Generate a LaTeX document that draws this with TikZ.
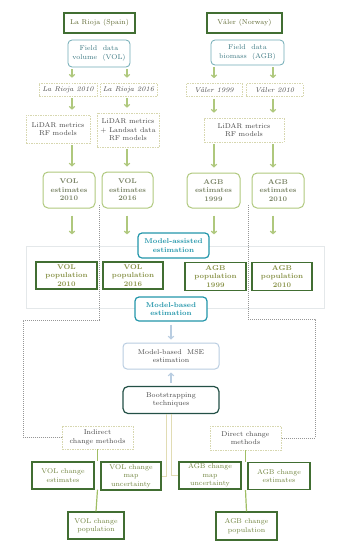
\documentclass[tikz,border=0pt]{standalone}
\usetikzlibrary{arrows.meta}
\definecolor{dkgreen}{RGB}{65,110,50}
\definecolor{headtxt}{RGB}{95,105,50}
\definecolor{tealtxt}{RGB}{60,120,130}
\definecolor{greytxt}{RGB}{70,70,70}
\definecolor{esttxt}{RGB}{120,130,100}
\definecolor{poptxt}{RGB}{135,145,70}
\definecolor{chgtxt}{RGB}{110,130,60}
\definecolor{tealc}{RGB}{35,150,170}
\definecolor{fieldbd}{RGB}{110,170,180}
\definecolor{msebd}{RGB}{185,205,225}
\definecolor{dkteal}{RGB}{35,80,70}
\definecolor{beige}{RGB}{215,215,175}
\definecolor{ltgreen}{RGB}{175,200,125}
\definecolor{glinec}{RGB}{160,190,100}
\definecolor{bootc}{RGB}{225,220,180}
\definecolor{framec}{RGB}{228,232,234}
\definecolor{gdotc}{RGB}{150,150,150}
\begin{document}
\begin{tikzpicture}[x=1pt,y=-1pt,
  every node/.style={font=\fontsize{7}{8.5}\selectfont, align=center, inner sep=0pt},
  wh/.style 2 args={minimum width=#1pt, minimum height=#2pt},
  head/.style={draw=dkgreen, line width=1.2pt, text=headtxt},
  field/.style={draw=fieldbd, line width=0.8pt, rounded corners=4pt, text=tealtxt},
  dbox/.style={draw=beige, line width=0.6pt, dash pattern=on 1.5pt off 1pt, text=greytxt},
  est/.style={draw=ltgreen, line width=1pt, rounded corners=5pt, text=esttxt, font=\fontsize{7}{8.5}\selectfont\bfseries},
  pop/.style={draw=dkgreen, line width=1.2pt, text=poptxt, font=\fontsize{7}{8.5}\selectfont\bfseries},
  meth/.style={draw=tealc, line width=1.2pt, rounded corners=4pt, text=tealc, fill=white, font=\fontsize{7}{8.5}\selectfont\bfseries},
  msebox/.style={draw=msebd, line width=1pt, rounded corners=4pt, text=greytxt},
  bootbox/.style={draw=dkteal, line width=1.2pt, rounded corners=5pt, text=greytxt},
  chg/.style={draw=dkgreen, line width=1.2pt, text=chgtxt},
  arr/.style={draw=ltgreen, line width=1.2pt, -{Straight Barb[length=2.5pt,width=5.5pt]}, shorten <=2pt, shorten >=5pt},
  barr/.style={draw=msebd, line width=1.2pt, -{Straight Barb[length=2.5pt,width=5.5pt]}, shorten <=3pt, shorten >=3pt},
  gline/.style={draw=glinec, line width=1.2pt},
  bootline/.style={draw=bootc, line width=1pt},
  gdot/.style={draw=gdotc, line width=0.6pt, dash pattern=on 1pt off 1pt}
]
\useasboundingbox (0,0) rectangle (348,550);

\coordinate (cA) at (72,0);
\coordinate (cB) at (127,0);
\coordinate (cC) at (214,0);
\coordinate (cD) at (273,0);

\node[head, wh={71}{20}] (rioja) at (99.5,23) {La Rioja (Spain)};
\node[head, wh={75}{20}] (valer) at (244.5,23) {Våler (Norway)};
\node[field, wh={62}{27}] (fdv) at (99,53.5) {Field\ \ data\\volume\ \ (VOL)};
\node[field, wh={73}{25}] (fdb) at (247.5,52.5) {Field\ \ data\\biomass\ \ (AGB)};

\node[dbox, wh={58}{13}] (r10) at (68,89.5) {\itshape La Rioja 2010};
\node[dbox, wh={57}{13}] (r16) at (128.5,89.5) {\itshape La Rioja 2016};
\node[dbox, wh={56}{13}] (v99) at (214,90) {\itshape Våler 1999};
\node[dbox, wh={57}{13}] (v10) at (274.5,90) {\itshape Våler 2010};

\node[dbox, wh={64}{28}] (rf1) at (58,129) {LiDAR metrics\\RF models};
\node[dbox, wh={62}{34}] (rf2) at (128,130) {LiDAR metrics\\+ Landsat data\\RF models};
\node[dbox, wh={80}{24}] (rf3) at (244,130) {LiDAR metrics\\RF models};

\node[est, wh={52}{36}] (ve10) at (69,190) {VOL\\estimates\\2010};
\node[est, wh={51}{36}] (ve16) at (127.5,190) {VOL\\estimates\\2016};
\node[est, wh={53}{35}] (ae99) at (213.5,190.5) {AGB\\estimates\\1999};
\node[est, wh={52}{35}] (ae10) at (278,190.5) {AGB\\estimates\\2010};

% frame of the population row
\draw[framec, line width=0.5pt] (26,246) rectangle (324,308);

% dotted grey connectors
\coordinate (g1) at (99,205);
\coordinate (g2) at (23,320);
\coordinate (g3) at (248,205);
\coordinate (g4) at (315,319);

\node[meth, wh={71}{25}] (ma) at (173.5,245.5) {Model-assisted\\estimation};

\node[pop, wh={61}{27}] (vp10) at (66.5,275.5) {VOL\\population\\2010};
\node[pop, wh={60}{27}] (vp16) at (133,275.5) {VOL\\population\\2016};
\node[pop, wh={61}{28}] (ap99) at (215.5,276.5) {AGB\\population\\1999};
\node[pop, wh={60}{28}] (ap10) at (282,276.5) {AGB\\population\\2010};

\node[meth, wh={72}{24}] (mb) at (171,309) {Model-based\\estimation};
\node[msebox, wh={96}{26}] (mse) at (171,356) {Model-based\ \ MSE\\estimation};
\node[bootbox, wh={96}{27}] (boot) at (171,400) {Bootstrapping\\techniques};

\node[dbox, wh={71}{23}] (ind) at (97.5,437.5) {Indirect\\change methods};
\node[dbox, wh={71}{24}] (dir) at (245.5,438) {Direct change\\methods};

\node[chg, wh={62}{27}] (vce) at (63,475.5) {VOL change\\estimates};
\node[chg, wh={60}{28}] (vcu) at (131,476) {VOL change\\map\\uncertainty};
\node[chg, wh={62}{27}] (acu) at (210,475.5) {AGB change\\map\\uncertainty};
\node[chg, wh={62}{27}] (ace) at (279,476) {AGB change\\estimates};
\node[chg, wh={56}{27}] (vcp) at (96,525.5) {VOL change\\population};
\node[chg, wh={61}{28}] (acp) at (246.5,526) {AGB change\\population};

% green arrows, left
\draw[arr] (fdv.south -| cA) -- (r10.north -| cA);
\draw[arr] (fdv.south -| cB) -- (r16.north -| cB);
\draw[arr] (r10.south -| cA) -- (rf1.north -| cA);
\draw[arr] (r16.south -| cB) -- (rf2.north -| cB);
\draw[arr] (rf1.south -| cA) -- (ve10.north -| cA);
\draw[arr] (rf2.south -| cB) -- (ve16.north -| cB);
\draw[arr, shorten <=7pt, shorten >=-2pt] (ve10.south -| cA) -- (cA |- ma.north);
\draw[arr, shorten <=7pt, shorten >=-2pt] (ve16.south -| cB) -- (cB |- ma.north);
% green arrows, right
\draw[arr] (fdb.south -| cC) -- (v99.north -| cC);
\draw[arr] (fdb.south -| cD) -- (v10.north -| cD);
\draw[arr] (v99.south -| cC) -- (rf3.north -| cC);
\draw[arr] (v10.south -| cD) -- (rf3.north -| cD);
\draw[arr] (rf3.south -| cC) -- (ae99.north -| cC);
\draw[arr] (rf3.south -| cD) -- (ae10.north -| cD);
\draw[arr, shorten <=7pt, shorten >=-2pt] (ae99.south -| cC) -- (cC |- ma.north);
\draw[arr, shorten <=7pt, shorten >=-2pt] (ae10.south -| cD) -- (cD |- ma.north);

% MSE arrows
\draw[barr] (mb.south) -- (mse.north);
\draw[barr] (boot.north) -- (mse.south);

% grey dotted routes
\draw[gdot] (g1) |- (g2) |- (ind.west);
\draw[gdot] (g3) |- (g4) |- (dir.east);

% bootstrapping lines
\draw[bootline] ([xshift=-5pt]boot.south) |- (vcu.east);
\draw[bootline] (boot.south) |- (acu.west);

% change connectors
\draw[gline] (ind.south) -- (ind.south |- vce.north);
\draw[gline] (ind.south |- vce.south) -- (vcp.north);
\draw[gline] (dir.south) -- (dir.south |- ace.north);
\draw[gline] (dir.south |- ace.south) -- (acp.north);
\end{tikzpicture}
\end{document}
